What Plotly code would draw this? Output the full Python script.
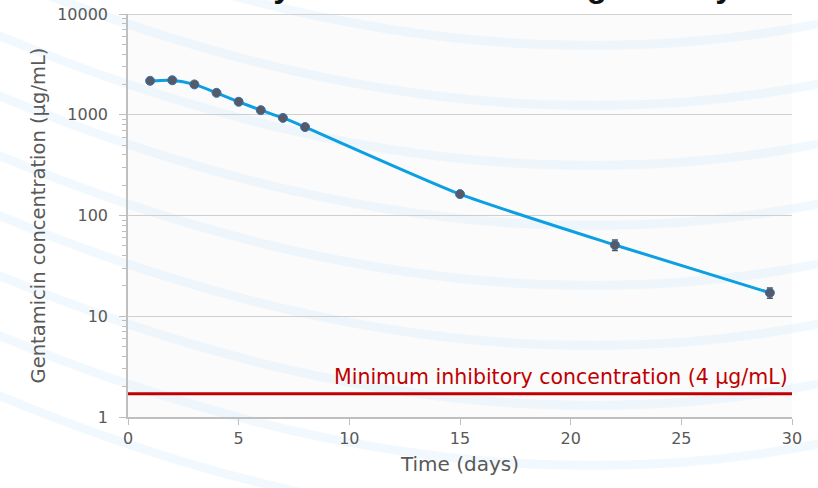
import math
import plotly.graph_objects as go

# Data
days = [1, 2, 3, 4, 5, 6, 7, 8, 15, 22, 29]
conc = [2170, 2200, 2000, 1650, 1345, 1110, 930, 755, 163, 51, 17.1]
err = [120, 110, 90, 80, 70, 60, 50, 40, 10, 6, 2]
mic_value = 1.7
mic_label = "Minimum inhibitory concentration (4 µg/mL)"
x_ticks = [0, 5, 10, 15, 20, 25, 30]
y_ticks = [1, 10, 100, 1000, 10000]
title_text = "Gentamicin is eluted over 30 days and decreases log-linearly at a steady rate"

GRAY = "#595959"
FONT = "'DejaVu Sans', sans-serif"

minor_vals = [m * 10 ** k for k in range(4) for m in range(2, 10)]

L, R, T, B = 128, 26, 14, 71
W, H = 818, 488
PW, PH = W - L - R, H - T - B


def px(x):
    return (x - L) / PW


def py(y):
    return 1 - (y - T) / PH


fig = go.Figure()

# faint decorative background bands
band_starts = [-170, -110, -50, 10, 70, 130, 190, 250, 310, 370]
for y0 in band_starts:
    path = "M {:.4f},{:.4f} Q {:.4f},{:.4f} {:.4f},{:.4f}".format(
        px(-60), py(y0), px(450), py(y0 + 230), px(880), py(y0 + 120))
    fig.add_shape(type="path", path=path, xref="paper", yref="paper",
                  line=dict(color="rgba(205,230,250,0.25)", width=9), layer="below")

# top gridline at 10000 (plotly omits the gridline at the range edge)
fig.add_shape(type="line", xref="paper", yref="y", x0=0, x1=1,
              y0=y_ticks[-1], y1=y_ticks[-1],
              line=dict(color="#C4C4C4", width=1.5), layer="below")

fig.add_trace(go.Scatter(
    x=days, y=conc,
    mode="lines+markers",
    line=dict(color="#0CA0E2", width=3, shape="spline", smoothing=0.6),
    marker=dict(color="#555A66", size=9, line=dict(color="#3d6fb0", width=1)),
    error_y=dict(type="data", array=err, visible=True, color="#555555", thickness=1.5, width=3),
    showlegend=False,
))

fig.add_trace(go.Scatter(
    x=[0, 30], y=[mic_value, mic_value],
    mode="lines",
    line=dict(color="#C00000", width=3),
    showlegend=False, hoverinfo="skip",
))

fig.add_annotation(
    x=30, y=math.log10(mic_value), xref="x", yref="y",
    text=mic_label, showarrow=False,
    xanchor="right", yanchor="bottom", yshift=3, xshift=-2,
    font=dict(family=FONT, size=20.5, color="#C00000"),
)

fig.add_annotation(
    x=-0.53, y=1, xref="paper", yref="paper",
    text="<b>" + title_text + "</b>", showarrow=False,
    xanchor="left", yanchor="bottom", yshift=8,
    font=dict(family="Liberation Sans, Arial, sans-serif", size=33, color="#111111"),
)

fig.update_xaxes(
    range=[0, 30],
    tickvals=x_ticks,
    ticks="outside", ticklen=6, tickcolor="#BFBFBF",
    showline=True, linecolor="#BFBFBF", linewidth=1.5,
    showgrid=False, zeroline=False, automargin=False,
    tickfont=dict(family=FONT, size=16, color=GRAY),
    title=dict(text="Time (days)", font=dict(family=FONT, size=20, color=GRAY), standoff=10),
)

fig.update_yaxes(
    type="log", range=[0, 4],
    tickvals=y_ticks, ticktext=[str(v) for v in y_ticks],
    ticks="outside", ticklen=7, tickcolor="#BFBFBF",
    ticklabelstandoff=8,
    minor=dict(tickvals=minor_vals, ticks="outside", ticklen=4, tickcolor="#BFBFBF", showgrid=False),
    showline=True, linecolor="#BFBFBF", linewidth=1.5,
    showgrid=True, gridcolor="#CFCFCF", gridwidth=1.2,
    zeroline=False, automargin=False,
    tickfont=dict(family=FONT, size=16, color=GRAY),
    title=dict(text="Gentamicin concentration (µg/mL)", font=dict(family=FONT, size=19.5, color=GRAY), standoff=6),
)

fig.update_layout(
    width=W, height=H,
    margin=dict(l=L, r=R, t=T, b=B),
    paper_bgcolor="white",
    plot_bgcolor="#FBFBFB",
)

fig.write_html("out.html", config={"displayModeBar": False},
               post_script="document.body.style.margin='0px';")
